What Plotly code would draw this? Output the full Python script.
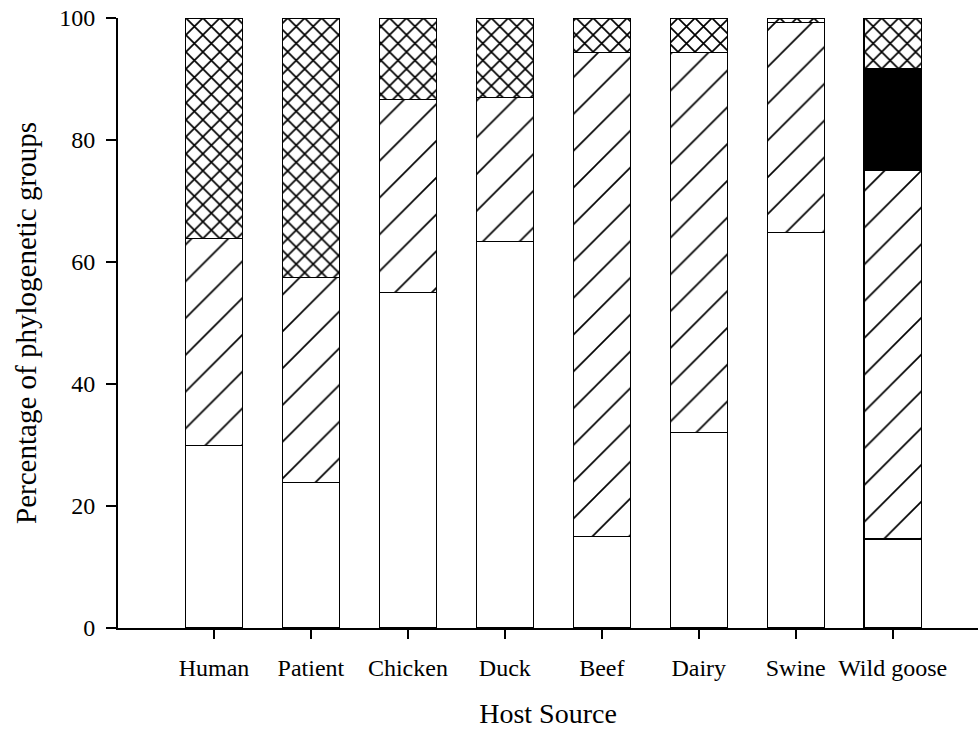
import plotly.graph_objects as go

# Host sources on the x axis
hosts = ["Human", "Patient", "Chicken", "Duck", "Beef", "Dairy", "Swine", "Wild goose"]

# Percentage of isolates in each phylogenetic group, stacked bottom to top
group_a = [29.9, 23.8, 55.0, 63.3, 15.0, 32.1, 64.8, 14.6]
group_b1 = [33.9, 33.6, 31.7, 23.7, 79.4, 62.3, 34.5, 60.4]
group_b2 = [0.0, 0.0, 0.0, 0.0, 0.0, 0.0, 0.0, 16.7]
group_d = [36.2, 42.6, 13.3, 13.0, 5.6, 5.6, 0.7, 8.3]

y_ticks = [0, 20, 40, 60, 80, 100]

font_family = "Liberation Serif, Times New Roman, serif"
x_pos = list(range(len(hosts)))

fig = go.Figure()

series = [
    ("A", group_a, dict(color="white")),
    ("B1", group_b1, dict(color="white",
                          pattern=dict(shape="/", fgcolor="black", bgcolor="white", fgopacity=1,
                                       size=26, solidity=0.065, fillmode="overlay"))),
    ("B2", group_b2, dict(color="black")),
    ("D", group_d, dict(color="white",
                        pattern=dict(shape="x", fgcolor="black", bgcolor="white", fgopacity=1,
                                     size=12, solidity=0.26, fillmode="overlay"))),
]

for name, vals, marker in series:
    marker = dict(marker)
    marker["line"] = dict(color="black", width=1.2)
    # empty groups are left out so no zero-height outline is drawn
    shown = [v if v > 0 else None for v in vals]
    fig.add_trace(go.Bar(
        x=x_pos, y=shown, name=name, width=0.59, marker=marker,
        showlegend=False, hoverinfo="x+y",
    ))

fig.update_layout(
    barmode="stack",
    width=978, height=736,
    margin=dict(l=118, r=0, t=18, b=108),
    plot_bgcolor="white", paper_bgcolor="white",
    font=dict(family=font_family, color="black", size=24),
)

fig.update_xaxes(
    range=[-0.99, 7.88],
    tickmode="array", tickvals=x_pos, ticktext=hosts,
    ticks="outside", ticklen=9, tickwidth=1.5, tickcolor="black",
    ticklabelstandoff=8,
    showline=True, linecolor="black", linewidth=2,
    showgrid=False, zeroline=False,
    tickfont=dict(size=24, family=font_family),
    title=dict(text="Host Source", font=dict(size=28, family=font_family), standoff=24),
)

fig.update_yaxes(
    range=[0, 100],
    tickmode="array", tickvals=y_ticks,
    ticks="outside", ticklen=10, tickwidth=1.5, tickcolor="black",
    ticklabelstandoff=6,
    showline=True, linecolor="black", linewidth=2,
    showgrid=False, zeroline=False,
    tickfont=dict(size=24, family=font_family),
    title=dict(text="Percentage of phylogenetic groups", font=dict(size=29, family=font_family), standoff=14),
)

fig.write_html("out.html")
